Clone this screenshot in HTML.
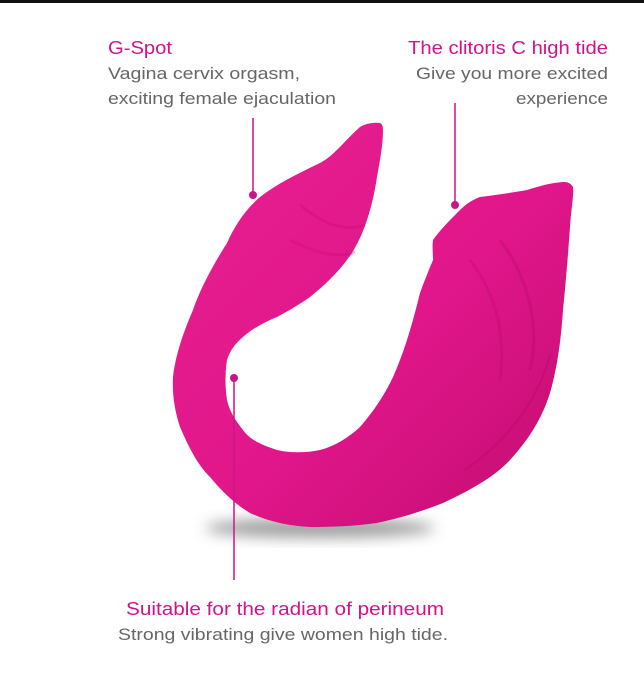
<!DOCTYPE html>
<html><head><style>
html,body{margin:0;padding:0;background:#fff;}
svg{display:block}
text{font-family:"Liberation Sans",sans-serif;}
</style></head><body>
<svg width="644" height="692" viewBox="0 0 644 692" xmlns="http://www.w3.org/2000/svg">
<defs>
<filter id="bl" x="-50%" y="-50%" width="200%" height="200%"><feGaussianBlur stdDeviation="7"/></filter>
<linearGradient id="g" x1="0" y1="0" x2="1" y2="1">
<stop offset="0" stop-color="#e8208f"/><stop offset="0.55" stop-color="#e0168a"/><stop offset="1" stop-color="#c20c70"/>
</linearGradient>
</defs>
<rect x="0" y="0" width="644" height="3" fill="#111"/>
<ellipse cx="320" cy="528" rx="115" ry="10" fill="#888" filter="url(#bl)" opacity="0.8"/>
<path d="M380,123 C372,122 365,124 360,127 C345,140 335,155 320,163 C295,175 275,185 260,197 C245,210 235,225 227,243 C210,270 200,290 193,310 C180,340 175,360 173,377 C172,395 175,412 180,427 C190,450 198,465 210,477 C225,495 237,505 250,513 C270,522 290,526 310,527 C335,527 355,526 377,523 C400,518 420,512 443,503 C475,488 495,476 510,460 C530,438 542,418 550,393 C558,365 561,338 563,310 C566,280 568,255 570,227 C571,210 574,195 573,187 C570,182 566,182 563,182 C550,183 540,186 527,190 C510,193 495,195 480,197 C472,200 466,204 460,210 C450,220 440,230 433,240 C432,247 433,253 433,260 C428,272 424,282 420,293 C412,325 405,350 393,377 C383,398 372,413 360,427 C348,438 335,446 320,450 C305,453 290,453 277,450 C262,445 250,440 243,430 C235,420 229,410 227,400 C225,387 225,372 227,360 C230,350 236,343 243,337 C253,328 265,322 277,317 C290,310 300,304 310,297 C325,285 337,273 347,260 C356,248 362,235 367,220 C372,205 375,190 377,177 C380,160 383,145 383,130 C383,126 382,124 380,123 Z" fill="url(#g)"/>
<path d="M300,205 C325,225 345,232 365,225" stroke="#c90b70" stroke-width="3" fill="none" opacity="0.35"/>
<path d="M290,240 C320,255 340,258 355,252" stroke="#c90b70" stroke-width="3" fill="none" opacity="0.3"/>
<path d="M500,240 C530,280 540,330 530,370" stroke="#b80a68" stroke-width="3" fill="none" opacity="0.35"/>
<path d="M470,260 C500,300 505,340 500,380" stroke="#b80a68" stroke-width="3" fill="none" opacity="0.3"/>
<path d="M550,355 C535,410 500,445 465,470" stroke="#b00a62" stroke-width="2" fill="none" opacity="0.4"/>
<g stroke="#c8168a" stroke-width="1.5">
<line x1="253" y1="118" x2="253" y2="195"/>
<line x1="455" y1="103" x2="455" y2="205"/>
<line x1="234" y1="378" x2="234" y2="580"/>
</g>
<g fill="#c8168a">
<circle cx="253" cy="195" r="4"/><circle cx="455" cy="205" r="4"/><circle cx="234" cy="378" r="4"/>
</g>
<g font-size="18" fill="#d0128c">
<text x="108" y="54" textLength="64" lengthAdjust="spacingAndGlyphs">G-Spot</text>
<text x="408" y="54" textLength="200" lengthAdjust="spacingAndGlyphs">The clitoris C high tide</text>
<text x="126" y="615" textLength="318" lengthAdjust="spacingAndGlyphs">Suitable for the radian of perineum</text>
</g>
<g font-size="17" fill="#666">
<text x="108" y="79" textLength="192" lengthAdjust="spacingAndGlyphs">Vagina cervix orgasm,</text>
<text x="108" y="104" textLength="228" lengthAdjust="spacingAndGlyphs">exciting female ejaculation</text>
<text x="416" y="79" textLength="192" lengthAdjust="spacingAndGlyphs">Give you more excited</text>
<text x="516" y="104" textLength="92" lengthAdjust="spacingAndGlyphs">experience</text>
<text x="118" y="640" textLength="330" lengthAdjust="spacingAndGlyphs">Strong vibrating give women high tide.</text>
</g>
</svg>
</body></html>
